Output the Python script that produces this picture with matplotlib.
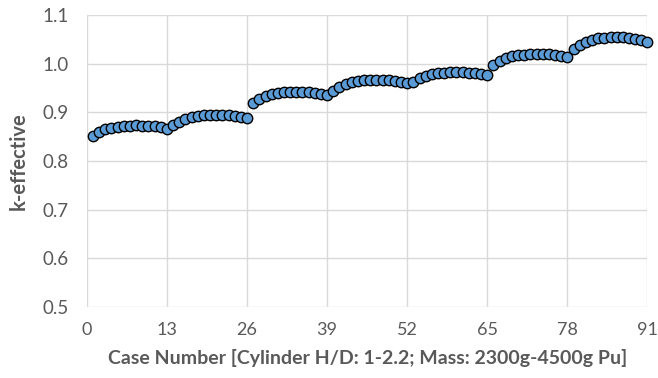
import matplotlib
matplotlib.use("Agg")
import matplotlib.pyplot as plt
import numpy as np

group1 = [0.852, 0.860, 0.865, 0.868, 0.870, 0.872, 0.873, 0.874, 0.873, 0.872, 0.871, 0.869, 0.866]
group2 = [0.874, 0.881, 0.886, 0.890, 0.892, 0.894, 0.895, 0.895, 0.895, 0.894, 0.893, 0.891, 0.888]
group3 = [0.920, 0.928, 0.933, 0.937, 0.939, 0.941, 0.942, 0.942, 0.942, 0.941, 0.940, 0.938, 0.935]
group4 = [0.944, 0.953, 0.958, 0.962, 0.964, 0.966, 0.967, 0.967, 0.967, 0.966, 0.965, 0.963, 0.960]
group5 = [0.962, 0.970, 0.975, 0.979, 0.981, 0.982, 0.983, 0.983, 0.983, 0.982, 0.981, 0.979, 0.976]
group6 = [0.998, 1.006, 1.011, 1.015, 1.017, 1.019, 1.020, 1.021, 1.021, 1.020, 1.018, 1.016, 1.013]
group7 = [1.030, 1.039, 1.045, 1.049, 1.052, 1.053, 1.054, 1.055, 1.054, 1.053, 1.051, 1.049, 1.045]
k_eff = group1 + group2 + group3 + group4 + group5 + group6 + group7
case_numbers = list(range(1, len(k_eff) + 1))

x_ticks = [0, 13, 26, 39, 52, 65, 78, 91]
y_ticks = [0.5, 0.6, 0.7, 0.8, 0.9, 1.0, 1.1]
y_tick_labels = ["0.5", "0.6", "0.7", "0.8", "0.9", "1.0", "1.1"]

plt.rcParams['font.family'] = ['Lato', 'DejaVu Sans']
gray = '#595959'

fig = plt.figure(figsize=(6.58, 3.78), dpi=100)
ax = fig.add_axes([0.132, 0.188, 0.852, 0.772])
ax.plot(case_numbers, k_eff, linestyle='none', marker='o', markersize=7.5,
        markerfacecolor='#5B9BD5', markeredgecolor='black', markeredgewidth=1.0,
        zorder=3, clip_on=False)
ax.set_xlim(0, 91)
ax.set_ylim(0.5, 1.1)
ax.set_xticks(x_ticks)
ax.set_yticks(y_ticks)
ax.set_yticklabels(y_tick_labels)
ax.grid(True, color='#D9D9D9', linewidth=1.0, zorder=0)
ax.set_axisbelow(True)
for s in ax.spines.values():
    s.set_visible(False)
ax.tick_params(axis='y', length=0, labelsize=13.5, colors=gray, pad=13)
ax.tick_params(axis='x', length=0, labelsize=13, colors=gray, pad=11)
ax.set_xlabel('Case Number [Cylinder H/D: 1-2.2; Mass: 2300g-4500g Pu]',
              fontsize=14, fontweight='bold', color=gray, labelpad=8)
ax.set_ylabel('k-effective', fontsize=14.5, fontweight='bold', color=gray, labelpad=10)
fig.savefig('out.png', dpi=100)
